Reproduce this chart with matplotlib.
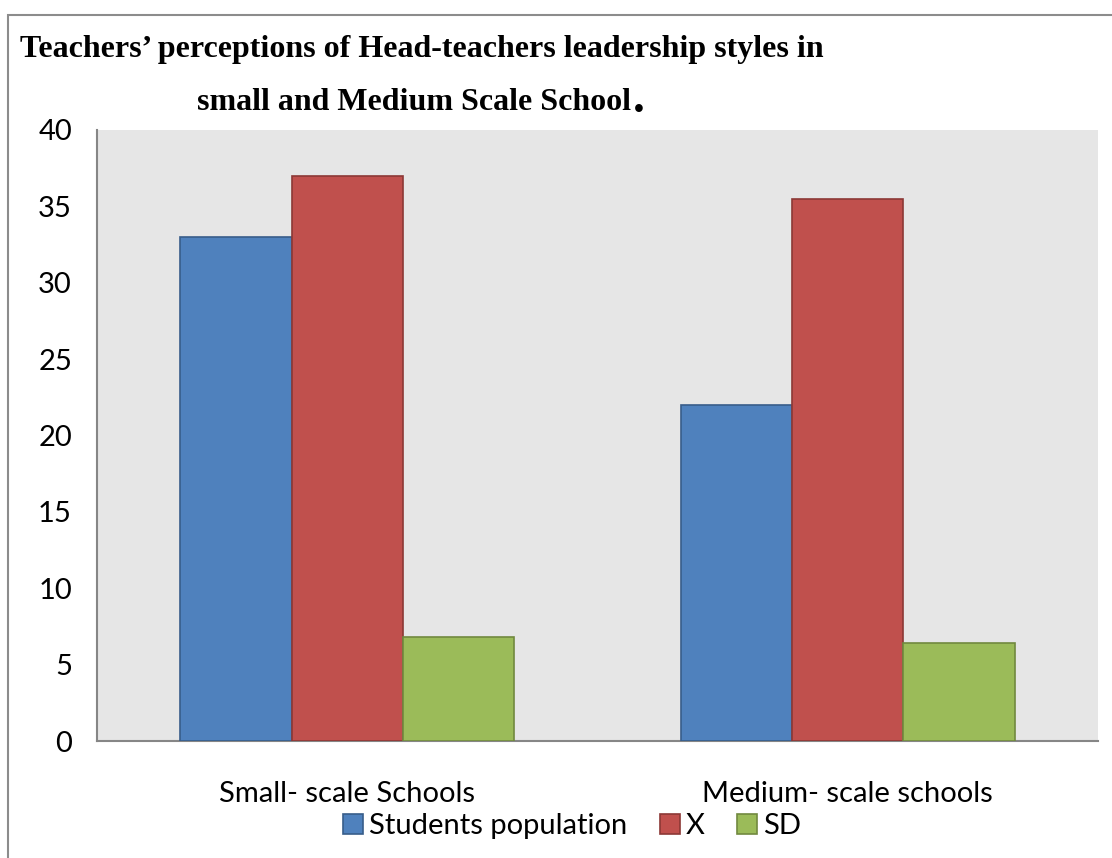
import numpy as np
import matplotlib
matplotlib.use('Agg')
import matplotlib.pyplot as plt
from matplotlib.patches import Rectangle

categories = ['Small- scale Schools', 'Medium- scale schools']
students_population = [33, 22]
x_mean = [37, 35.5]
sd = [6.8, 6.4]

series_names = ['Students population', 'X', 'SD']
face_colors = ['#4F81BD', '#C0504D', '#9BBB59']
edge_colors = ['#385D8A', '#8C3836', '#71893F']

W, H = 1112, 858
fig = plt.figure(figsize=(W / 100, H / 100), dpi=100)
ax = fig.add_axes([97 / W, 1 - 741 / H, (1098 - 97) / W, (741 - 130) / H])
ax.set_facecolor('#E6E6E6')

# excel style clustered bars, gap width 150%
width = 1 / 4.5
pos = np.arange(len(categories))
values = [students_population, x_mean, sd]
for i, vals in enumerate(values):
    ax.bar(pos + (i - 1) * width, vals, width, color=face_colors[i],
           edgecolor=edge_colors[i], linewidth=1.2, label=series_names[i], zorder=3)

ax.set_xlim(-0.5, 1.5)
ax.set_ylim(0, 40)
ax.set_yticks(range(0, 41, 5))
ax.set_xticks(pos)
ax.set_xticklabels(categories)

tick_font = 'Lato'
for lab in ax.get_yticklabels() + ax.get_xticklabels():
    lab.set_fontfamily(tick_font)
    lab.set_fontsize(21)
ax.tick_params(axis='y', length=0, pad=18)
ax.tick_params(axis='x', length=0, pad=29)

for s in ['top', 'right']:
    ax.spines[s].set_visible(False)
ax.spines['left'].set_color('#868686')
ax.spines['bottom'].set_color('#868686')
ax.spines['left'].set_linewidth(1.5)
ax.spines['bottom'].set_linewidth(1.5)

fig.legend(loc='center', bbox_to_anchor=(572 / W, 1 - 826 / H), ncol=3,
           frameon=False, prop={'family': tick_font, 'size': 21},
           handlelength=0.7, handleheight=0.7, handletextpad=0.2,
           columnspacing=1.1, borderpad=0)

fig.text(20 / W, 1 - 49 / H,
         'Teachers\u2019 perceptions of Head-teachers leadership styles in',
         fontfamily='Liberation Serif', fontweight='bold', fontsize=23,
         ha='left', va='center')
line2 = fig.text(197 / W, 1 - 103 / H, 'small and Medium Scale School',
                 fontfamily='Liberation Serif', fontweight='bold', fontsize=23,
                 ha='left', va='center')

# the full stop after the second line is set larger
fig.canvas.draw()
bb = line2.get_window_extent().transformed(fig.transFigure.inverted())
fig.text(bb.x1 + 2 / W, 1 - 101 / H, '.', fontfamily='Liberation Serif',
         fontweight='bold', fontsize=34, ha='left', va='center')

# chart frame
fig.patches.append(Rectangle((8 / W, -0.05), 1.1, 1 - 15 / H + 0.05,
                             transform=fig.transFigure, fill=False,
                             edgecolor='#8C8C8C', linewidth=1.5))

fig.savefig('out.png', dpi=100)
